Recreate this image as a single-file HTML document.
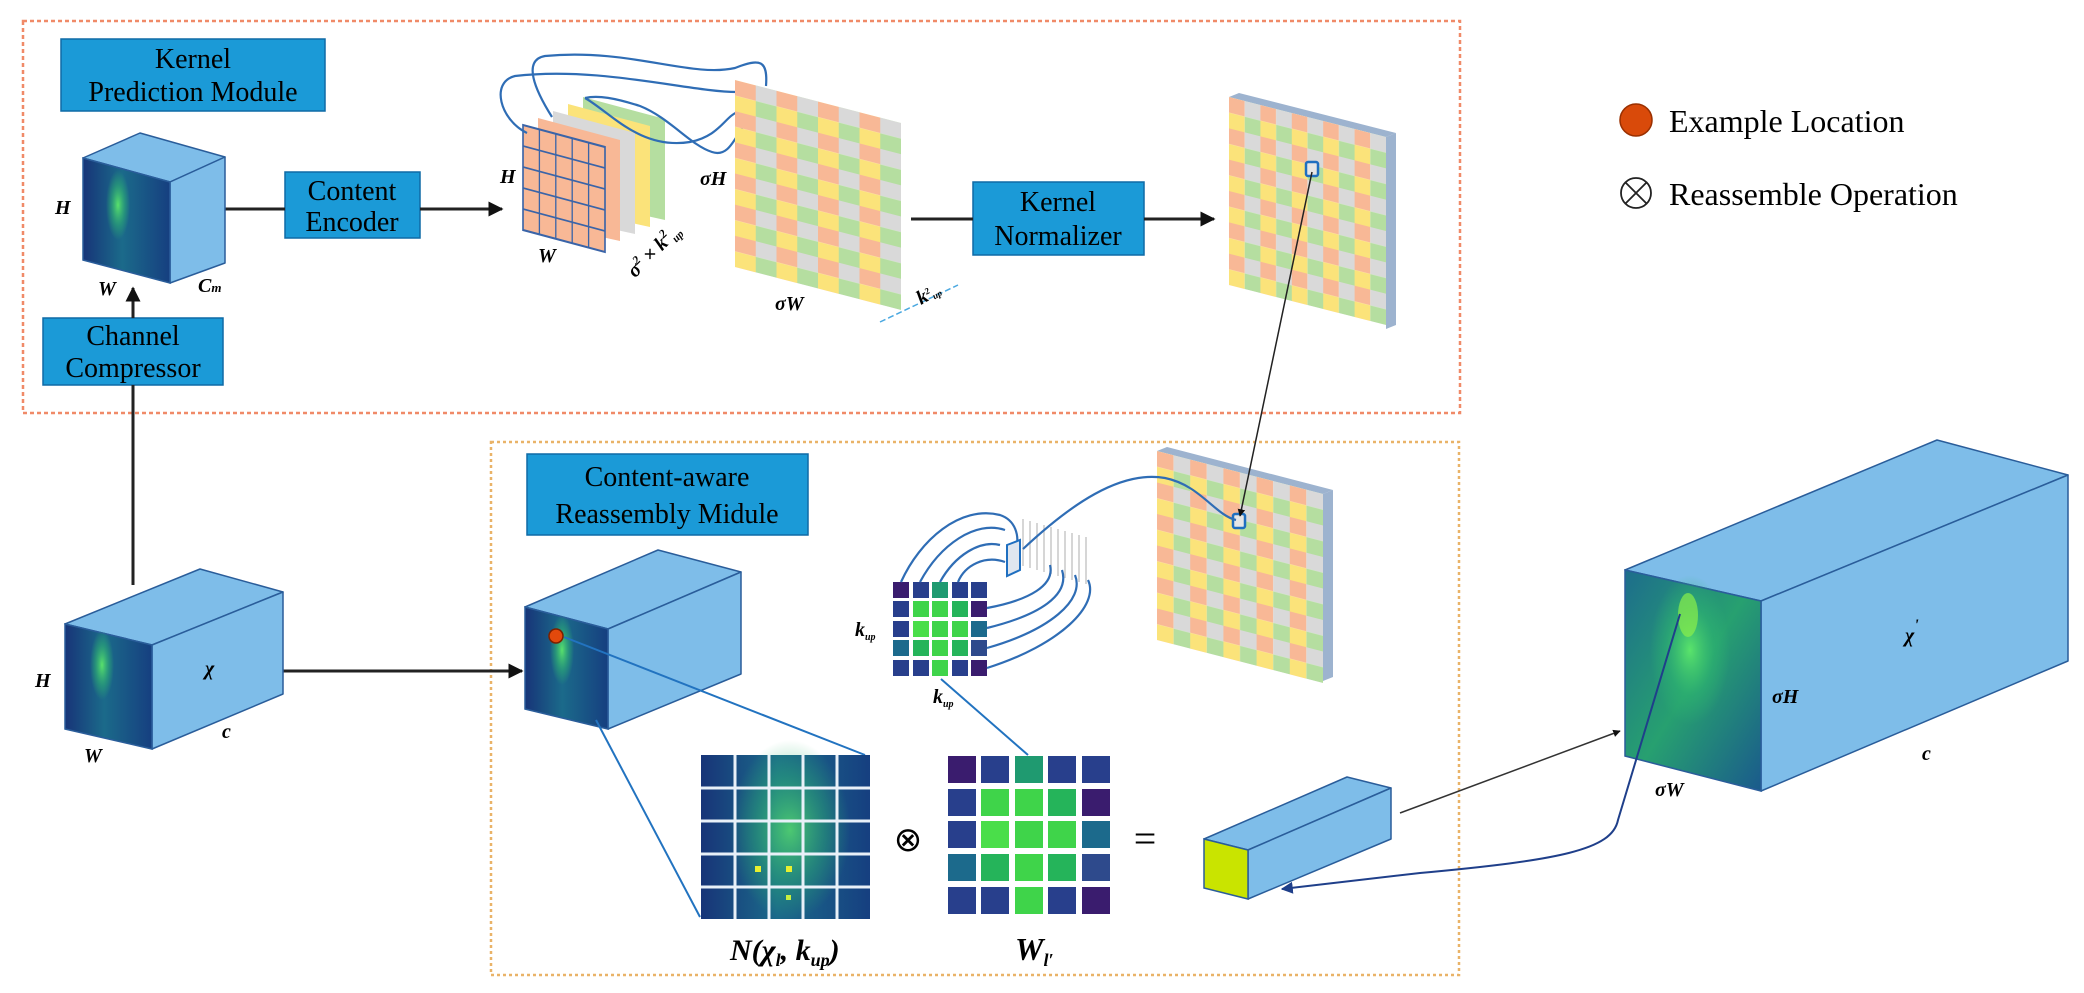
<!DOCTYPE html>
<html><head><meta charset="utf-8"><style>
html,body{margin:0;padding:0;background:#fff;}
svg{display:block;}
.bx{fill:#1b9ad7;stroke:#0f6aa6;stroke-width:1.5;}
.bt{font-family:"Liberation Serif",serif;font-size:28px;fill:#000;text-anchor:middle;}
.cb{fill:#7ebde9;stroke:#2a5d9a;stroke-width:1.5;stroke-linejoin:round;}
.lb{font-family:"Liberation Serif",serif;font-style:italic;font-weight:bold;font-size:20px;fill:#000;}
.bl{fill:none;stroke:#2f6db5;stroke-width:2.2;}
.ln{stroke:#222;stroke-width:3;fill:none;}
</style></head><body>
<svg width="2084" height="993" viewBox="0 0 2084 993" xmlns="http://www.w3.org/2000/svg">
<defs>
<marker id="ah" viewBox="0 0 10 10" refX="9" refY="5" markerWidth="5" markerHeight="5" orient="auto"><path d="M0,0L10,5L0,10z" fill="#111"/></marker>
<marker id="ahb" viewBox="0 0 10 10" refX="9" refY="5" markerWidth="6" markerHeight="6" orient="auto"><path d="M0,0L10,5L0,10z" fill="#1f3f8a"/></marker>
<pattern id="chk" width="2" height="2" patternUnits="userSpaceOnUse">
<rect x="0" y="0" width="1" height="1" fill="#f8b896"/><rect x="1" y="0" width="1" height="1" fill="#d9d9d9"/>
<rect x="0" y="1" width="1" height="1" fill="#fbe37a"/><rect x="1" y="1" width="1" height="1" fill="#b5dea0"/>
</pattern>
<linearGradient id="heat" x1="0" y1="0" x2="1" y2="0">
<stop offset="0" stop-color="#173478"/><stop offset="0.45" stop-color="#1b6a8a"/><stop offset="1" stop-color="#163f80"/>
</linearGradient>
<radialGradient id="glow" cx="0.5" cy="0.5" r="0.5">
<stop offset="0" stop-color="#5de86a" stop-opacity="0.95"/><stop offset="0.6" stop-color="#2fb870" stop-opacity="0.5"/><stop offset="1" stop-color="#2fb870" stop-opacity="0"/>
</radialGradient>
<linearGradient id="bigface" x1="0" y1="0" x2="1" y2="1">
<stop offset="0" stop-color="#1d6d8c"/><stop offset="0.5" stop-color="#27a070"/><stop offset="1" stop-color="#1a5a8c"/>
</linearGradient>
</defs>

<!-- module boxes -->
<rect x="23" y="21" width="1437" height="392" fill="none" stroke="#f08a68" stroke-width="2.5" stroke-dasharray="4 3"/>
<rect x="491" y="442" width="968" height="533" fill="none" stroke="#e9b368" stroke-width="2.5" stroke-dasharray="3 3"/>

<!-- blue boxes -->
<rect class="bx" x="61" y="39" width="264" height="72"/>
<text class="bt" x="193" y="68">Kernel</text><text class="bt" x="193" y="101">Prediction Module</text>
<rect class="bx" x="285" y="172" width="135" height="66"/>
<text class="bt" x="352" y="200">Content</text><text class="bt" x="352" y="231">Encoder</text>
<rect class="bx" x="43" y="318" width="180" height="67"/>
<text class="bt" x="133" y="345">Channel</text><text class="bt" x="133" y="377">Compressor</text>
<rect class="bx" x="973" y="182" width="171" height="73"/>
<text class="bt" x="1058" y="211">Kernel</text><text class="bt" x="1058" y="245">Normalizer</text>
<rect class="bx" x="527" y="454" width="281" height="81"/>
<text class="bt" x="667" y="486">Content-aware</text><text class="bt" x="667" y="523">Reassembly Midule</text>

<!-- connectors top -->
<line class="ln" x1="133" y1="585" x2="133" y2="385" stroke-width="2"/>
<line class="ln" x1="133" y1="318" x2="133" y2="288" stroke-width="2" marker-end="url(#ah)"/>
<line class="ln" x1="225" y1="209" x2="285" y2="209"/>
<line class="ln" x1="420" y1="209" x2="502" y2="209" marker-end="url(#ah)"/>
<line class="ln" x1="911" y1="219" x2="973" y2="219"/>
<line class="ln" x1="1144" y1="219" x2="1214" y2="219" marker-end="url(#ah)"/>
<line class="ln" x1="283" y1="671" x2="522" y2="671" marker-end="url(#ah)"/>

<!-- Cm cube -->
<polygon class="cb" points="83,158 140,133 225,157 170,182"/>
<polygon class="cb" points="170,182 225,157 225,263 170,283"/>
<polygon points="83,158 170,182 170,283 83,260" fill="url(#heat)" stroke="#2a5d9a" stroke-width="1.5"/>
<ellipse cx="118" cy="205" rx="12" ry="35" fill="url(#glow)"/>
<text class="lb" x="55" y="214">H</text><text class="lb" x="98" y="295">W</text><text class="lb" x="198" y="292">C<tspan font-size="13">m</tspan></text>

<!-- grid cube -->
<polygon points="583,97 665,119 665,220 583,202" fill="#b5dea0" transform="translate(0,0)"/>
<polygon points="568,104 650,126 650,227 568,209" fill="#fbe37a"/>
<polygon points="553,111 635,133 635,234 553,216" fill="#d9d9d9"/>
<polygon points="538,118 620,140 620,241 538,223" fill="#f8b896"/>
<g transform="matrix(16.4,4.4,0,21,523,125)">
<rect x="0" y="0" width="5" height="5" fill="#f8b896" stroke="#3a64a8" stroke-width="0.1"/>
<path d="M1,0V5M2,0V5M3,0V5M4,0V5M0,1H5M0,2H5M0,3H5M0,4H5" stroke="#3a64a8" stroke-width="0.08" fill="none"/>
</g>
<text class="lb" x="500" y="183">H</text><text class="lb" x="538" y="262">W</text>
<text class="lb" x="620" y="268" transform="rotate(-45 640 255)">σ<tspan font-size="12" dy="-8">2</tspan><tspan dy="8"> × k</tspan><tspan font-size="12" dy="-8">2</tspan><tspan font-size="11" dy="12">up</tspan></text>

<!-- curves top -->
<path class="bl" d="M527,133 C500,120 490,82 515,76 C600,66 690,92 737,92"/>
<path class="bl" d="M552,117 C535,90 522,60 545,56 C630,48 690,78 735,68 C760,58 768,60 766,86"/>
<path class="bl" d="M585,98 C610,112 640,150 690,142 C720,136 725,116 738,112"/>
<path class="bl" d="M758,115 C738,118 735,160 712,152 C690,145 670,118 640,106 C615,98 598,95 585,98"/>

<!-- big checker panel -->
<g transform="matrix(20.75,5.375,0,15.58,735,80)"><rect x="0" y="0" width="8" height="12" fill="url(#chk)"/></g>
<text class="lb" x="700" y="185">σH</text><text class="lb" x="775" y="310">σW</text>
<line x1="880" y1="322" x2="958" y2="285" stroke="#4aa8e0" stroke-width="1.5" stroke-dasharray="6 3"/>
<text class="lb" x="918" y="302" font-size="14" transform="rotate(-30 925 298)">k<tspan font-size="9" dy="-6">2</tspan><tspan font-size="9" dy="8">up</tspan></text>

<!-- top right checker panel -->
<polygon points="1229,97 1239,93 1396,133 1386,137" fill="#9db3cf"/>
<polygon points="1386,137 1396,133 1396,325 1386,329" fill="#9db3cf"/>
<g transform="matrix(15.7,4,0,15.67,1229,97)"><rect x="0" y="0" width="10" height="12" fill="url(#chk)"/></g>
<rect x="1306" y="162" width="12" height="14" fill="#e6e6e6" stroke="#1f6fc0" stroke-width="2.5" rx="2"/>

<!-- lower checker panel -->
<polygon points="1157,451 1167,447 1333,490 1323,494" fill="#9db3cf"/>
<polygon points="1323,494 1333,490 1333,677 1323,681" fill="#9db3cf"/>
<g transform="matrix(16.6,4.3,0,15.75,1157,451)"><rect x="0" y="0" width="10" height="12" fill="url(#chk)"/></g>
<rect x="1233" y="514" width="12" height="14" fill="#e6e6e6" stroke="#1f6fc0" stroke-width="2.5" rx="2"/>
<line x1="1312" y1="172" x2="1240" y2="516" stroke="#222" stroke-width="1.5" marker-end="url(#ah)"/>

<!-- legend -->
<circle cx="1636" cy="120" r="16" fill="#d94a0a" stroke="#9a3000" stroke-width="1.5"/>
<text x="1669" y="132" font-family="Liberation Serif,serif" font-size="32">Example Location</text>
<circle cx="1636" cy="193" r="15" fill="none" stroke="#222" stroke-width="1.8"/>
<path d="M1625,182L1647,204M1647,182L1625,204" stroke="#222" stroke-width="1.8"/>
<text x="1669" y="205" font-family="Liberation Serif,serif" font-size="32">Reassemble Operation</text>

<!-- X cube -->
<polygon class="cb" points="65,624 200,569 283,592 152,645"/>
<polygon class="cb" points="152,645 283,592 283,694 152,749"/>
<polygon points="65,624 152,645 152,749 65,729" fill="url(#heat)" stroke="#2a5d9a" stroke-width="1.5"/>
<ellipse cx="102" cy="665" rx="12" ry="35" fill="url(#glow)"/>
<text class="lb" x="35" y="687">H</text><text class="lb" x="84" y="762">W</text>
<text class="lb" x="205" y="675" font-size="28">χ</text><text class="lb" x="222" y="738">c</text>

<!-- feature cube -->
<polygon class="cb" points="525,607 658,550 741,572 608,629"/>
<polygon class="cb" points="608,629 741,572 741,674 608,729"/>
<polygon points="525,607 608,629 608,729 525,709" fill="url(#heat)" stroke="#2a5d9a" stroke-width="1.5"/>
<ellipse cx="562" cy="650" rx="12" ry="35" fill="url(#glow)"/>
<line x1="564" y1="637" x2="865" y2="755" stroke="#2273c0" stroke-width="2"/>
<line x1="596" y1="720" x2="700" y2="917" stroke="#2273c0" stroke-width="2"/>
<circle cx="556" cy="636" r="7" fill="#e2490c" stroke="#7a2000" stroke-width="1.5"/>

<!-- N grid -->
<rect x="701" y="755" width="169" height="164" fill="url(#heat)"/>
<ellipse cx="790" cy="830" rx="60" ry="90" fill="url(#glow)" opacity="0.8"/>
<rect x="755" y="866" width="6" height="6" fill="#e8f030"/><rect x="786" y="866" width="6" height="6" fill="#e8f030"/><rect x="786" y="895" width="5" height="5" fill="#c8f040"/>
<path d="M735,755V919M769,755V919M803,755V919M837,755V919M701,788H870M701,821H870M701,854H870M701,887H870" stroke="#e8f0f8" stroke-width="3"/>
<text x="908" y="851" text-anchor="middle" font-family="DejaVu Sans,sans-serif" font-size="34">⊗</text>

<!-- W grid -->
<g>
<rect x="948" y="756" width="28" height="27" fill="#3a1c6e"/><rect x="981" y="756" width="28" height="27" fill="#283f8c"/><rect x="1015" y="756" width="28" height="27" fill="#1f9a70"/><rect x="1048" y="756" width="28" height="27" fill="#283f8c"/><rect x="1082" y="756" width="28" height="27" fill="#283f8c"/>
<rect x="948" y="789" width="28" height="27" fill="#283f8c"/><rect x="981" y="789" width="28" height="27" fill="#3fd44a"/><rect x="1015" y="789" width="28" height="27" fill="#3fd44a"/><rect x="1048" y="789" width="28" height="27" fill="#25b45a"/><rect x="1082" y="789" width="28" height="27" fill="#3a1c6e"/>
<rect x="948" y="821" width="28" height="27" fill="#283f8c"/><rect x="981" y="821" width="28" height="27" fill="#4ade4a"/><rect x="1015" y="821" width="28" height="27" fill="#3fd44a"/><rect x="1048" y="821" width="28" height="27" fill="#3fd44a"/><rect x="1082" y="821" width="28" height="27" fill="#1c6a8c"/>
<rect x="948" y="854" width="28" height="27" fill="#1c6a8c"/><rect x="981" y="854" width="28" height="27" fill="#25b45a"/><rect x="1015" y="854" width="28" height="27" fill="#3fd44a"/><rect x="1048" y="854" width="28" height="27" fill="#25b45a"/><rect x="1082" y="854" width="28" height="27" fill="#2e4a8c"/>
<rect x="948" y="887" width="28" height="27" fill="#283f8c"/><rect x="981" y="887" width="28" height="27" fill="#283f8c"/><rect x="1015" y="887" width="28" height="27" fill="#3fd44a"/><rect x="1048" y="887" width="28" height="27" fill="#283f8c"/><rect x="1082" y="887" width="28" height="27" fill="#3a1c6e"/>
</g>
<text x="730" y="960" font-family="Liberation Serif,serif" font-style="italic" font-weight="bold" font-size="30">N(χ<tspan font-size="18" dy="6">l</tspan><tspan dy="-6">, k</tspan><tspan font-size="18" dy="6">up</tspan><tspan dy="-6">)</tspan></text>
<text x="1015" y="960" font-family="Liberation Serif,serif" font-style="italic" font-weight="bold" font-size="32">W<tspan font-size="18" dy="6">l′</tspan></text>

<!-- small kernel grid -->
<g>
<rect x="893" y="582" width="16" height="16" fill="#3a1c6e"/><rect x="913" y="582" width="16" height="16" fill="#283f8c"/><rect x="932" y="582" width="16" height="16" fill="#1f9a70"/><rect x="952" y="582" width="16" height="16" fill="#283f8c"/><rect x="971" y="582" width="16" height="16" fill="#283f8c"/>
<rect x="893" y="601" width="16" height="16" fill="#283f8c"/><rect x="913" y="601" width="16" height="16" fill="#3fd44a"/><rect x="932" y="601" width="16" height="16" fill="#3fd44a"/><rect x="952" y="601" width="16" height="16" fill="#25b45a"/><rect x="971" y="601" width="16" height="16" fill="#3a1c6e"/>
<rect x="893" y="621" width="16" height="16" fill="#283f8c"/><rect x="913" y="621" width="16" height="16" fill="#4ade4a"/><rect x="932" y="621" width="16" height="16" fill="#3fd44a"/><rect x="952" y="621" width="16" height="16" fill="#3fd44a"/><rect x="971" y="621" width="16" height="16" fill="#1c6a8c"/>
<rect x="893" y="640" width="16" height="16" fill="#1c6a8c"/><rect x="913" y="640" width="16" height="16" fill="#25b45a"/><rect x="932" y="640" width="16" height="16" fill="#3fd44a"/><rect x="952" y="640" width="16" height="16" fill="#25b45a"/><rect x="971" y="640" width="16" height="16" fill="#2e4a8c"/>
<rect x="893" y="660" width="16" height="16" fill="#283f8c"/><rect x="913" y="660" width="16" height="16" fill="#283f8c"/><rect x="932" y="660" width="16" height="16" fill="#3fd44a"/><rect x="952" y="660" width="16" height="16" fill="#283f8c"/><rect x="971" y="660" width="16" height="16" fill="#3a1c6e"/>
</g>
<text class="lb" x="855" y="636" font-size="16">k<tspan font-size="10" dy="4">up</tspan></text>
<text class="lb" x="933" y="703" font-size="16">k<tspan font-size="10" dy="4">up</tspan></text>
<line x1="941" y1="679" x2="1028" y2="755" stroke="#2273c0" stroke-width="2"/>

<!-- reassembly curves -->
<path d="M1023,519V566M1030,521V568M1037,523V570M1044,525V572M1051,527V574M1058,529V576M1065,531V578M1072,533V580M1079,535V582M1086,537V584" stroke="#c8c8c8" stroke-width="1.5"/>
<path d="M901,582 C920,540 960,505 1000,515 C1015,520 1020,535 1016,550" class="bl" stroke-width="1.6"/>
<path d="M920,582 C940,545 975,520 1005,530" class="bl" stroke-width="1.6"/>
<path d="M940,582 C955,555 980,540 1000,545" class="bl" stroke-width="1.6"/>
<path d="M958,582 C965,565 985,555 1005,562" class="bl" stroke-width="1.6"/>
<path d="M987,608 C1030,600 1055,585 1050,565" class="bl" stroke-width="1.6"/>
<path d="M987,628 C1040,615 1070,595 1062,570" class="bl" stroke-width="1.6"/>
<path d="M987,648 C1050,630 1085,600 1075,575" class="bl" stroke-width="1.6"/>
<path d="M987,668 C1060,645 1100,605 1088,580" class="bl" stroke-width="1.6"/>
<polygon points="1007,545 1020,540 1020,570 1007,576" fill="#dfe6ef" stroke="#1f6fc0" stroke-width="2"/>
<path class="bl" d="M1023,549 C1070,505 1120,470 1165,478 C1200,485 1215,515 1236,520"/>

<!-- bar -->
<polygon class="cb" points="1204,839 1347,777 1391,788 1248,850"/>
<polygon class="cb" points="1248,850 1391,788 1391,839 1248,899"/>
<polygon points="1204,839 1248,850 1248,899 1204,888" fill="#c9e400" stroke="#2a5d9a" stroke-width="1.5"/>
<text x="1145" y="852" text-anchor="middle" font-family="Liberation Serif,serif" font-size="40">=</text>

<!-- X' cube -->
<polygon class="cb" points="1625,570 1937,440 2068,475 1761,601"/>
<polygon class="cb" points="1761,601 2068,475 2068,661 1761,791"/>
<polygon points="1625,570 1761,601 1761,791 1625,756" fill="url(#bigface)" stroke="#2a5d9a" stroke-width="1.5"/>
<ellipse cx="1690" cy="650" rx="40" ry="75" fill="url(#glow)"/>
<ellipse cx="1688" cy="615" rx="10" ry="22" fill="#8af04a" opacity="0.7"/>
<text class="lb" x="1905" y="642" font-size="28">χ<tspan font-size="16" dy="-12">'</tspan></text>
<text class="lb" x="1772" y="703" font-size="17">σH</text>
<text class="lb" x="1922" y="760">c</text>
<text class="lb" x="1655" y="796" font-size="17">σW</text>
<line x1="1400" y1="813" x2="1620" y2="731" stroke="#333" stroke-width="1.5" marker-end="url(#ah)"/>
<path d="M1680,614 L1618,820 C1612,850 1560,860 1420,873 L1282,889" fill="none" stroke="#1f3f8a" stroke-width="2" marker-end="url(#ahb)"/>
</svg>
</body></html>
